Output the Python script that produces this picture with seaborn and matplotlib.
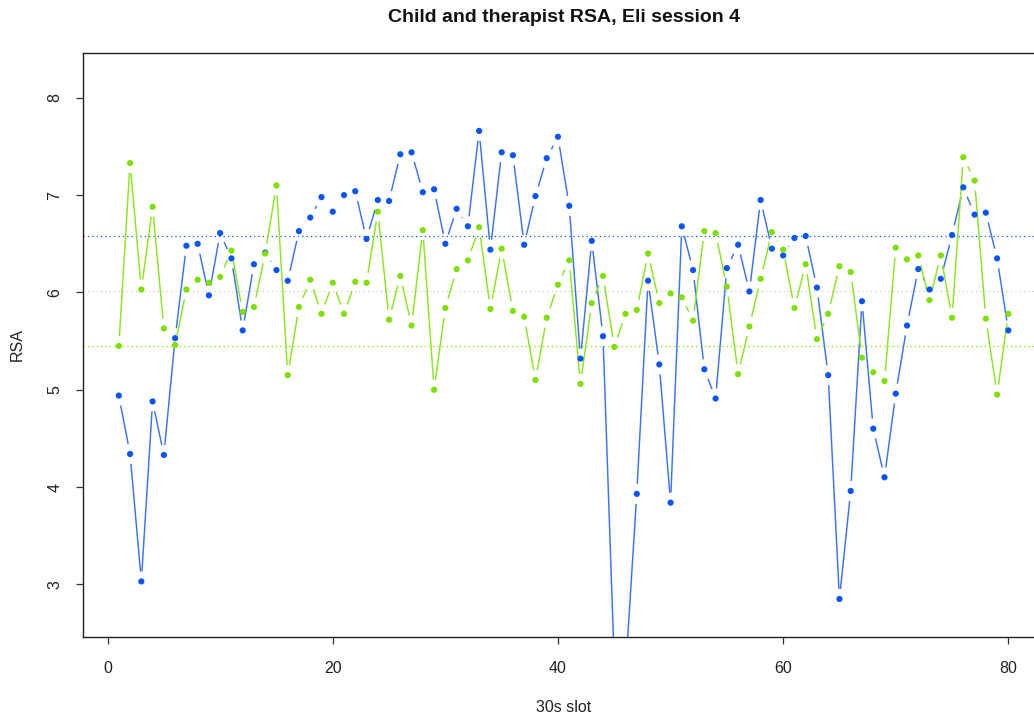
import numpy as np
import pandas as pd
import matplotlib
matplotlib.use("Agg")
import matplotlib.pyplot as plt
from matplotlib.collections import LineCollection
import seaborn as sns

# ---------------- data ----------------
slots = list(range(1, 81))
child_rsa = [4.94, 4.34, 3.03, 4.88, 4.33, 5.53, 6.48, 6.50, 5.97, 6.61,
             6.35, 5.61, 6.29, 6.41, 6.23, 6.12, 6.63, 6.77, 6.98, 6.83,
             7.00, 7.04, 6.55, 6.95, 6.94, 7.42, 7.44, 7.03, 7.06, 6.50,
             6.86, 6.68, 7.66, 6.44, 7.44, 7.41, 6.49, 6.99, 7.38, 7.60,
             6.89, 5.32, 6.53, 5.55, 2.20, 2.10, 3.93, 6.12, 5.26, 3.84,
             6.68, 6.23, 5.21, 4.91, 6.25, 6.49, 6.01, 6.95, 6.45, 6.38,
             6.56, 6.58, 6.05, 5.15, 2.85, 3.96, 5.91, 4.60, 4.10, 4.96,
             5.66, 6.24, 6.03, 6.14, 6.59, 7.08, 6.80, 6.82, 6.35, 5.61]
therapist_rsa = [5.45, 7.33, 6.03, 6.88, 5.63, 5.46, 6.03, 6.13, 6.10, 6.16,
                 6.43, 5.80, 5.85, 6.40, 7.10, 5.15, 5.85, 6.13, 5.78, 6.10,
                 5.78, 6.11, 6.10, 6.83, 5.72, 6.17, 5.66, 6.64, 5.00, 5.84,
                 6.24, 6.33, 6.67, 5.83, 6.45, 5.81, 5.75, 5.10, 5.74, 6.08,
                 6.33, 5.06, 5.89, 6.17, 5.44, 5.78, 5.82, 6.40, 5.89, 5.99,
                 5.95, 5.71, 6.63, 6.61, 6.06, 5.16, 5.65, 6.14, 6.62, 6.44,
                 5.84, 6.29, 5.52, 5.78, 6.27, 6.21, 5.33, 5.18, 5.09, 6.46,
                 6.34, 6.38, 5.92, 6.38, 5.74, 7.39, 7.15, 5.73, 4.95, 5.78]
ref_values = [6.58, 6.01, 5.45]
x_ticks = [0, 20, 40, 60, 80]
y_ticks = [3, 4, 5, 6, 7, 8]

BLUE = "#0a55f5"
BLUE_LINE = "#3a72f8"
GREEN = "#7ee000"
GREEN_LINE = "#8ae620"
GRAY = "#cfcfcf"

sns.set_theme(style="white")
plt.rcParams["font.family"] = ["Liberation Sans", "DejaVu Sans"]

fig = plt.figure(figsize=(10.34, 7.15), dpi=100)
ax = fig.add_axes([0.0805, 0.1091, 0.9291, 0.8168])
ax.set_xlim(-2.16, 83.16)
ax.set_ylim(2.459, 8.461)

# reference lines
for val, col in zip(ref_values, [BLUE, GRAY, GREEN]):
    ax.axhline(val, color=col, lw=0.9, ls=(0, (1, 2.5)), zorder=1)

def gapped_segments(ax, x, y, gap_px=10.0):
    pts = ax.transData.transform(np.column_stack([x, y]))
    inv = ax.transData.inverted()
    segs = []
    for p0, p1 in zip(pts[:-1], pts[1:]):
        d = p1 - p0
        L = np.hypot(d[0], d[1])
        if L <= 2 * gap_px:
            continue
        u = d / L
        a = p0 + u * gap_px
        b = p1 - u * gap_px
        segs.append(inv.transform(np.array([a, b])))
    return segs

df = pd.DataFrame({"slot": slots, "child": child_rsa, "therapist": therapist_rsa})

for col, lc_col, pc_col in [("child", BLUE_LINE, BLUE), ("therapist", GREEN_LINE, GREEN)]:
    segs = gapped_segments(ax, df["slot"].values, df[col].values, gap_px=10.0)
    ax.add_collection(LineCollection(segs, colors=lc_col, linewidths=1.05, zorder=2))
    sns.scatterplot(data=df, x="slot", y=col, ax=ax, color=pc_col, s=20,
                    edgecolor="none", linewidth=0, zorder=3)

ax.set_xlim(-2.16, 83.16)
ax.set_ylim(2.459, 8.461)

ax.set_xticks(x_ticks)
ax.set_xticklabels([str(t) for t in x_ticks], fontsize=11.5, color="#222222")
ax.set_yticks(y_ticks)
ax.set_yticklabels([str(t) for t in y_ticks], fontsize=11.5, color="#222222",
                   rotation=90, va="center")
ax.tick_params(axis="both", which="both", direction="out", length=5.2,
               width=0.9, color="#333333", bottom=True, left=True)
ax.tick_params(axis="x", pad=12)
ax.tick_params(axis="y", pad=10)

for sp in ax.spines.values():
    sp.set_visible(True)
    sp.set_color("#222222")
    sp.set_linewidth(1.0)

ax.set_xlabel("30s slot", fontsize=11.5, color="#222222")
ax.set_ylabel("RSA", fontsize=11.5, color="#222222")
ax.xaxis.set_label_coords(0.5, -0.108)
ax.yaxis.set_label_coords(-0.061, 0.5)

fig.text(563.5 / 1034, 1 - 17 / 715, "Child and therapist RSA, Eli session 4",
         ha="center", va="center", fontsize=14, fontweight="bold", color="#111111")

fig.savefig("out.png", dpi=100, facecolor="white")
